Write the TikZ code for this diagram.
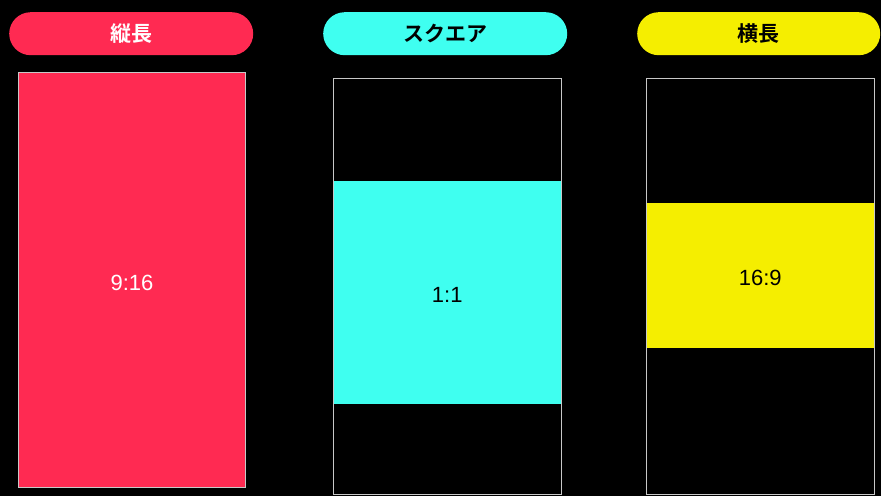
\documentclass[tikz,border=0pt]{standalone}
\usepackage{fontspec}
\setmainfont{Liberation Sans}
\newfontfamily\jpfont[BoldFont={Noto Sans CJK JP Bold}]{Noto Sans CJK JP}
\definecolor{tallred}{HTML}{FF2A52}
\definecolor{squarecyan}{HTML}{3FFFF0}
\definecolor{wideyellow}{HTML}{F5EE00}
\definecolor{edgegray}{HTML}{C8C8C8}
\tikzset{
  tab/.style = {rectangle, rounded corners = 21.5pt, minimum width = 244pt, minimum height = 43pt,
    inner sep = 0pt, anchor = north west, font = \jpfont\bfseries\fontsize{21}{25}\selectfont},
  screen/.style = {draw = edgegray, line width = 1pt, minimum width = 228pt, inner sep = 0pt, anchor = north west},
  shot/.style = {minimum width = 228pt, inner sep = 0pt, anchor = north west},
  ratio/.style = {font = \fontsize{22}{26}\selectfont, yshift = -2.5pt}
}
\begin{document}
\begin{tikzpicture}[x = 1pt, y = -1pt]
\fill[black] (0,0) rectangle (881,496);
% tabs
\node[tab, fill = tallred, text = white] (tabtall) at (9,12) {縦長};
\node[tab, fill = squarecyan, text = black] (tabsquare) at (323,12) {スクエア};
\node[tab, fill = wideyellow, text = black, minimum width = 243pt] (tabwide) at (637,12) {横長};
% screens
\node[shot, fill = tallred, minimum height = 415pt, minimum width = 227pt,
  draw = edgegray, line width = 1pt] (talls) at (18,72) {};
\node[shot, fill = squarecyan, minimum height = 223pt] (squares) at (333,181) {};
\node[screen, minimum height = 416pt] (squareframe) at (333,78) {};
\node[shot, fill = wideyellow, minimum height = 145pt] (wides) at (646,203) {};
\node[screen, minimum height = 416pt] (wideframe) at (646,78) {};
% ratios
\node[ratio, text = white] (talltext) at (talls.center) {9:16};
\node[ratio] (squaretext) at (squares.center) {1:1};
\node[ratio] (widetext) at (wides.center) {16:9};
\end{tikzpicture}
\end{document}
